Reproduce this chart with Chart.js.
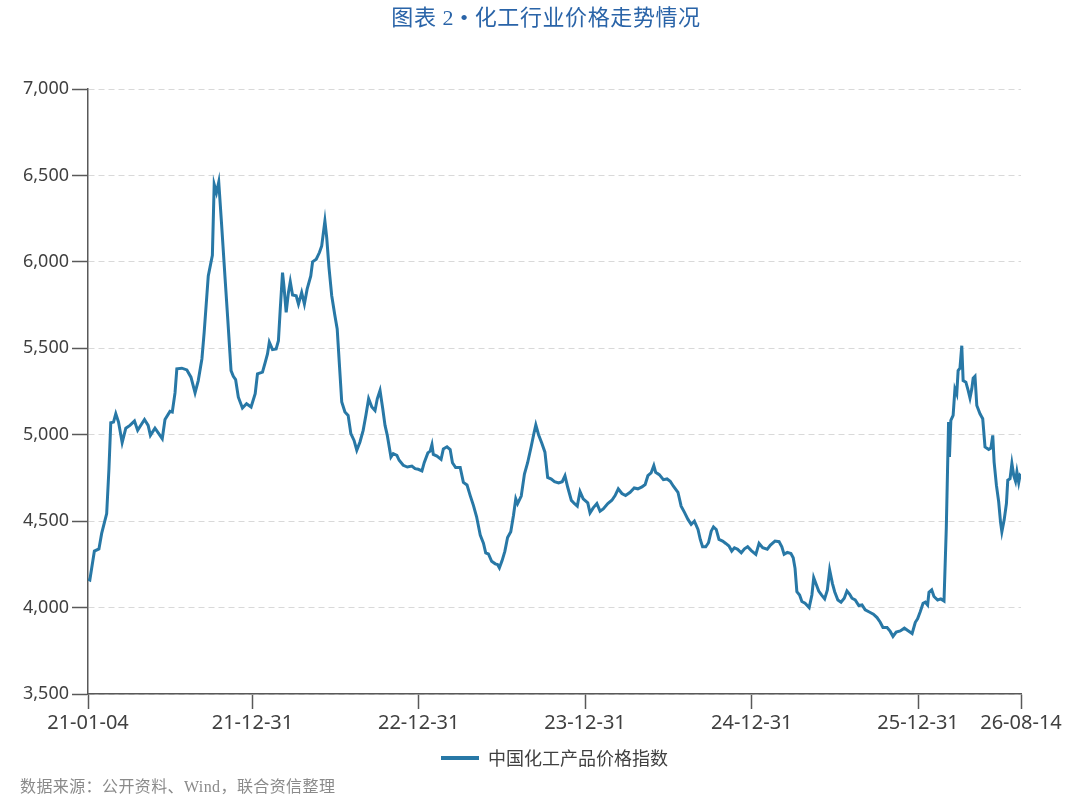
<!DOCTYPE html>
<html lang="zh-CN">
<head>
    <meta charset="UTF-8">
    <title>化工行业价格走势情况</title>
    <style>
        body { margin: 0; background: #fff; }
        #wrap { position: relative; width: 1080px; height: 805px; }
        #title { position: absolute; left: 0; top: 3px; width: 1092px; text-align: center;
                 font-family: "Liberation Serif", "Noto Sans CJK SC", serif; font-size: 22px;
                 letter-spacing: 0.6px; line-height: 30px; color: #2a64a8; }
        #source { position: absolute; left: 20px; top: 776px; font-size: 16px; line-height: 22px;
                  letter-spacing: 0.4px;
                  font-family: "Liberation Serif", "Noto Sans CJK SC", serif; color: #8a8a8a; }
        canvas { position: absolute; left: 0; top: 0; }
    </style>
</head>
<body>
<div id="wrap">
    <canvas id="chart" width="1080" height="805"></canvas>
    <div id="title">图表 2 • 化工行业价格走势情况</div>
    <div id="source">数据来源：公开资料、Wind，联合资信整理</div>
</div>

<script src="https://cdn.jsdelivr.net/npm/chart.js"></script>
<script>
    // days counted from 2021-01-04
    const seriesName = '中国化工产品价格指数';
    const dayOffsets = [
        0, 4, 14, 24, 30, 41, 46, 50, 56, 61, 67, 75, 83, 92, 102, 109, 124, 132, 137, 147,
        163, 169, 180, 185, 191, 195, 206, 217, 226, 235, 242, 250, 255, 264, 273, 277, 282, 287, 293, 301,
        307, 314, 319, 324, 330, 339, 348, 358,
        367, 372, 383, 389, 394, 398, 405, 413, 418, 422, 427, 430, 435, 440, 444, 449, 457, 462, 469, 475,
        481, 489, 493, 501, 508, 513, 520, 524, 529, 535, 542, 547, 552, 557, 564, 571, 577, 584, 590, 597,
        604, 610, 616, 623, 630, 635, 641, 647, 652, 657, 665, 670, 678, 683, 692, 701, 711, 718,
        725, 733, 738, 746, 751, 755, 758, 766, 775, 780, 788, 795, 800, 807, 817, 824, 832, 839, 846, 853,
        861, 868, 873, 879, 886, 894, 899, 903, 909, 915, 921, 928, 934, 939, 943, 951, 958, 965, 973, 979,
        983, 989, 996, 1003, 1009, 1017, 1024, 1033, 1041, 1047, 1053, 1061, 1068, 1074, 1080, 1087,
        1097, 1102, 1109, 1117, 1124, 1131, 1141, 1150, 1157, 1164, 1172, 1180, 1190, 1199, 1207, 1216,
        1223, 1229, 1236, 1242, 1246, 1254, 1263, 1271, 1278, 1285, 1295, 1302, 1309, 1317, 1324, 1331,
        1339, 1344, 1349, 1356, 1362, 1368, 1373, 1379, 1385, 1393, 1400, 1407, 1413, 1419, 1426, 1434, 1441, 1448,
        1456, 1466, 1473, 1481, 1491, 1498, 1508, 1517, 1523, 1528, 1535, 1543, 1548, 1552, 1556, 1562,
        1567, 1574, 1583, 1589, 1593, 1599, 1604, 1610, 1617, 1623, 1628, 1634, 1639, 1646, 1653, 1660,
        1666, 1672, 1677, 1684, 1692, 1699, 1706, 1716, 1724, 1732, 1739, 1745, 1754, 1761, 1767, 1774,
        1783, 1792, 1801,
        1809, 1816, 1821, 1827, 1833, 1838, 1843, 1846, 1852, 1857, 1865, 1872, 1879, 1884, 1889, 1891,
        1894, 1899, 1903, 1907, 1910, 1914, 1918, 1921, 1927, 1932, 1936, 1940, 1943, 1947, 1951, 1958,
        1964, 1969, 1977, 1982, 1986, 1989, 1994, 1999, 2003, 2006, 2011, 2016, 2019, 2024, 2028, 2032,
        2036, 2039, 2043, 2046, 2048
    ];
    const indexValues = [
        4165, 4160, 4327, 4339, 4429, 4544, 4804, 5069, 5073, 5121, 5073, 4954, 5038, 5054, 5079, 5025, 5088, 5054, 4996, 5038,
        4977, 5088, 5135, 5131, 5242, 5381, 5385, 5375, 5333, 5242, 5313, 5438, 5592, 5919, 6038, 6448, 6400, 6462, 6227, 5900,
        5660, 5371, 5338, 5319, 5217, 5154, 5179, 5160,
        5237, 5352, 5362, 5419, 5467, 5535, 5492, 5496, 5544, 5727, 5938, 5862, 5708, 5823, 5885, 5808, 5804, 5756, 5823, 5756,
        5842, 5919, 6000, 6015, 6054, 6092, 6236, 6140, 5967, 5804, 5688, 5612, 5400, 5189, 5131, 5112, 5006, 4967, 4910, 4958,
        5025, 5112, 5208, 5160, 5140, 5208, 5256, 5150, 5054, 4996, 4871, 4890, 4881, 4852, 4823, 4813, 4819, 4804,
        4800, 4791, 4838, 4895, 4905, 4943, 4886, 4876, 4857, 4918, 4930, 4914, 4838, 4810, 4810, 4724, 4709, 4648, 4591, 4525,
        4420, 4373, 4316, 4310, 4268, 4253, 4249, 4230, 4272, 4325, 4405, 4439, 4534, 4629, 4601, 4645, 4772, 4838, 4933, 5010,
        5057, 5000, 4952, 4899, 4753, 4743, 4728, 4721, 4728, 4762, 4696, 4620, 4601, 4587, 4671, 4629,
        4606, 4548, 4577, 4602, 4558, 4571, 4602, 4621, 4648, 4687, 4660, 4648, 4667, 4692, 4687, 4698,
        4712, 4763, 4779, 4821, 4783, 4769, 4740, 4744, 4731, 4702, 4667, 4587, 4552, 4510, 4481, 4500,
        4452, 4394, 4352, 4352, 4375, 4442, 4467, 4452, 4394, 4385, 4371, 4356, 4327, 4346, 4337, 4317, 4340, 4352,
        4330, 4308, 4371, 4346, 4338, 4362, 4385, 4381, 4352, 4308, 4319, 4313, 4288, 4227, 4092, 4073,
        4035, 4025, 4000, 4073, 4173, 4131, 4096, 4073, 4050, 4102, 4217, 4140, 4092, 4044, 4031, 4054,
        4096, 4077, 4054, 4044, 4012, 4015, 3987, 3973, 3962, 3942, 3915, 3885, 3885, 3862, 3833, 3858,
        3865, 3881, 3865,
        3850, 3915, 3935, 3977, 4025, 4031, 4015, 4088, 4102, 4064, 4044, 4050, 4038, 4458, 5073, 4871,
        5083, 5112, 5265, 5237, 5371, 5385, 5515, 5313, 5304, 5256, 5212, 5265, 5327, 5338, 5169, 5121,
        5092, 4929, 4915, 4923, 4996, 4842, 4708, 4612, 4496, 4438, 4506, 4602, 4737, 4746, 4833, 4765,
        4731, 4785, 4723, 4765, 4760
    ];
    // x-axis tick labels and where they sit (days from 2021-01-04)
    const tickLabels = ['21-01-04', '21-12-31', '22-12-31', '23-12-31', '24-12-31', '25-12-31', '26-08-14'];
    const tickDays = [0, 361, 726, 1091, 1457, 1822, 2048];

    const lineColor = '#2878a6';
    const axisColor = '#595959';

    Chart.defaults.font.family = '"Noto Sans", "Noto Sans CJK SC", sans-serif';
    Chart.defaults.color = '#404040';

    new Chart(document.getElementById('chart').getContext('2d'), {
        type: 'line',
        data: {
            datasets: [{
                label: seriesName,
                data: dayOffsets.map((d, i) => ({x: d, y: indexValues[i]})),
                borderColor: lineColor,
                backgroundColor: lineColor,
                borderWidth: 3,
                pointRadius: 0,
                tension: 0
            }]
        },
        options: {
            responsive: false,
            animation: false,
            layout: { padding: {top: 89, right: 59, bottom: 28, left: 0} },
            plugins: {
                title: { display: false },
                tooltip: { enabled: false },
                legend: {
                    position: 'bottom',
                    fullSize: false,
                    labels: {
                        boxWidth: 38,
                        boxHeight: 4,
                        padding: 10,
                        color: '#404040',
                        font: { size: 18, family: '"Noto Sans CJK SC", sans-serif' },
                        generateLabels: chart => Chart.defaults.plugins.legend.labels.generateLabels(chart)
                            .map(l => Object.assign(l, {lineWidth: 0}))
                    }
                }
            },
            scales: {
                x: {
                    type: 'linear',
                    min: 0,
                    max: 2048,
                    afterBuildTicks: s => { s.ticks = tickDays.map(v => ({value: v})); },
                    afterFit: s => { s.height = 45; },
                    ticks: {
                        autoSkip: false,
                        maxRotation: 0,
                        padding: 2,
                        font: { size: 20 },
                        callback: v => tickLabels[tickDays.indexOf(v)]
                    },
                    grid: { drawOnChartArea: false, tickColor: axisColor, tickLength: 15, tickWidth: 1.5 },
                    border: { color: axisColor, width: 1.5 }
                },
                y: {
                    min: 3500,
                    max: 7000,
                    afterFit: s => { s.width = 88; },
                    ticks: {
                        stepSize: 500,
                        padding: 3,
                        font: { size: 18 },
                        callback: v => v.toLocaleString('en-US')
                    },
                    grid: { color: '#d9d9d9', lineWidth: 1, tickColor: axisColor, tickLength: 16,
                            tickWidth: 1.5, tickBorderDash: [] },
                    border: { color: axisColor, width: 1.5, dash: [6, 4] }
                }
            }
        }
    });
</script>
</body>
</html>
